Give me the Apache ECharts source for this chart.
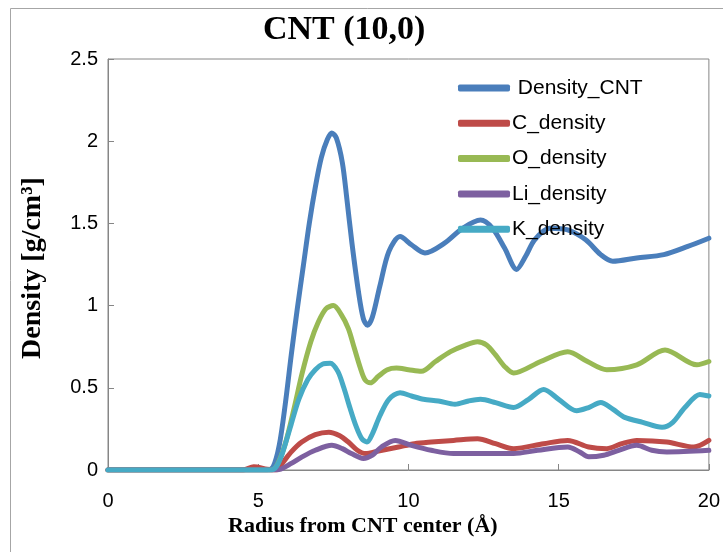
<!DOCTYPE html>
<html>
<head>
<meta charset="utf-8">
<script src="https://cdn.jsdelivr.net/npm/echarts@6/dist/echarts.min.js"></script>
<style>
html,body{margin:0;padding:0;background:#fff;}
#chart{width:723px;height:552px;}
</style>
</head>
<body>
<div id="chart"></div>
<script>
// ---- data ----
const xTicks = [0, 5, 10, 15, 20];
const yTicks = [0, 0.5, 1, 1.5, 2, 2.5];

const cntR = [0, 5.3, 5.5, 5.7, 5.9, 6.1, 6.3, 6.5, 6.7, 6.9, 7.1, 7.3, 7.45, 7.6, 7.8, 7.95, 8.12, 8.34, 8.5, 8.64, 8.8, 9.05, 9.35, 9.72, 10.1, 10.55, 11.2, 11.8, 12.4, 12.8, 13.2, 13.6, 13.9, 14.2, 14.7, 15.3, 15.9, 16.4, 16.8, 17.6, 18.5, 19.3, 20];
const cntV = [0, 0, 0.02, 0.15, 0.4, 0.7, 0.98, 1.24, 1.5, 1.72, 1.9, 2.01, 2.05, 2.02, 1.87, 1.65, 1.38, 1.08, 0.92, 0.88, 0.93, 1.12, 1.33, 1.42, 1.37, 1.32, 1.38, 1.47, 1.52, 1.47, 1.35, 1.22, 1.30, 1.40, 1.47, 1.46, 1.40, 1.31, 1.27, 1.29, 1.31, 1.36, 1.41];

const cR = [0, 4.5, 4.85, 5.3, 5.6, 5.8, 6.1, 6.45, 6.9, 7.35, 7.7, 8.0, 8.3, 8.57, 9.0, 9.67, 10.2, 10.76, 11.5, 12.3, 12.9, 13.5, 14.5, 15.3, 16.0, 16.6, 17.1, 17.6, 18.6, 19.5, 20];
const cV = [0, 0, 0.02, 0.005, 0, 0.04, 0.11, 0.17, 0.215, 0.23, 0.21, 0.17, 0.12, 0.10, 0.115, 0.14, 0.16, 0.17, 0.18, 0.19, 0.16, 0.13, 0.16, 0.18, 0.14, 0.13, 0.16, 0.18, 0.17, 0.14, 0.18];

const oR = [0, 5.4, 5.6, 5.9, 6.2, 6.45, 6.75, 7.0, 7.25, 7.5, 7.75, 8.0, 8.2, 8.4, 8.55, 8.73, 9.0, 9.3, 9.6, 10.0, 10.43, 10.9, 11.4, 11.9, 12.3, 12.6, 12.9, 13.2, 13.5, 14.4, 15.3, 15.96, 16.6, 17.6, 18.54, 19.6, 20];
const oV = [0, 0, 0.02, 0.16, 0.38, 0.58, 0.78, 0.9, 0.98, 1.0, 0.95, 0.86, 0.74, 0.62, 0.55, 0.53, 0.57, 0.61, 0.62, 0.61, 0.60, 0.66, 0.72, 0.76, 0.78, 0.76, 0.70, 0.63, 0.59, 0.66, 0.72, 0.66, 0.61, 0.64, 0.73, 0.64, 0.66];

const liR = [0, 5.5, 5.75, 6.1, 6.46, 6.9, 7.45, 7.8, 8.1, 8.5, 8.8, 9.1, 9.56, 10.1, 10.76, 11.5, 12.3, 13.5, 14.3, 15.3, 15.7, 16.0, 16.5, 17.0, 17.6, 18.1, 18.6, 20];
const liV = [0, 0, 0.005, 0.04, 0.08, 0.12, 0.15, 0.13, 0.10, 0.07, 0.09, 0.14, 0.18, 0.15, 0.12, 0.10, 0.10, 0.10, 0.12, 0.14, 0.11, 0.08, 0.09, 0.12, 0.15, 0.12, 0.11, 0.12];

const kR = [0, 5.4, 5.6, 5.8, 6.1, 6.35, 6.65, 6.9, 7.15, 7.4, 7.65, 7.85, 8.05, 8.25, 8.45, 8.62, 8.8, 9.05, 9.35, 9.72, 10.1, 10.5, 11.0, 11.55, 12.0, 12.4, 12.9, 13.5, 14.0, 14.5, 15.0, 15.6, 16.0, 16.4, 16.8, 17.2, 17.8, 18.44, 18.8, 19.2, 19.7, 20];
const kV = [0, 0, 0.02, 0.10, 0.28, 0.43, 0.55, 0.61, 0.645, 0.65, 0.6, 0.5, 0.38, 0.27, 0.19, 0.17, 0.22, 0.33, 0.43, 0.47, 0.45, 0.43, 0.42, 0.40, 0.42, 0.43, 0.41, 0.38, 0.43, 0.49, 0.43, 0.36, 0.38, 0.41, 0.37, 0.32, 0.29, 0.26, 0.29, 0.38, 0.46, 0.45];

const seriesNames = ['Density_CNT', 'C_density', 'O_density', 'Li_density', 'K_density'];
const seriesColors = ['#4A7EBB', '#BE4B48', '#98B954', '#7D60A0', '#46AAC5'];
const seriesR = [cntR, cR, oR, liR, kR];
const seriesV = [cntV, cV, oV, liV, kV];

const pair = (xs, ys) => xs.map((x, i) => [x, ys[i]]);

const chart = echarts.init(document.getElementById('chart'));
const serif = '"Liberation Serif", "Times New Roman", serif';
const sans = '"Liberation Sans", Arial, sans-serif';

chart.setOption({
  animation: false,
  backgroundColor: '#ffffff',
  title: {
    text: 'CNT (10,0)',
    left: 263, top: 13, padding: 0,
    textStyle: { fontFamily: serif, fontWeight: 'bold', fontSize: 34, color: '#000' }
  },
  graphic: [
    { type: 'rect', shape: { x: 10.5, y: 8.5, width: 740, height: 580 },
      style: { fill: 'none', stroke: '#a6a6a6', lineWidth: 1 }, z: -1 },
    { type: 'text', left: 228, top: 515,
      style: { text: 'Radius from CNT center (Å)', font: 'bold 22px ' + serif, fill: '#000' } },
    { type: 'text', x: 33, y: 268, rotation: Math.PI / 2,
      style: { text: 'Density [g/cm³]', font: 'bold 28px ' + serif, fill: '#000',
               textAlign: 'center', textVerticalAlign: 'middle' } }
  ],
  legend: {
    orient: 'vertical',
    left: 458, top: 76, padding: 0,
    itemWidth: 52, itemHeight: 7, itemGap: 11.3,
    icon: 'roundRect',
    data: seriesNames,
    formatter: n => n === 'Density_CNT' ? ' ' + n : n,
    textStyle: { fontFamily: sans, fontSize: 21, color: '#000', lineHeight: 24, padding: [0, 0, 0, -3] }
  },
  grid: {
    left: 108, right: 11, top: 59, bottom: 82,
    show: true, borderColor: '#868686', borderWidth: 1, backgroundColor: 'transparent'
  },
  xAxis: {
    type: 'value', min: xTicks[0], max: xTicks[xTicks.length - 1], interval: 5,
    axisLine: { lineStyle: { color: '#868686', width: 1 } },
    axisTick: { inside: true, length: 6, lineStyle: { color: '#868686' } },
    axisLabel: { margin: 21, fontFamily: sans, fontSize: 20, color: '#000' },
    splitLine: { show: false }
  },
  yAxis: {
    type: 'value', min: yTicks[0], max: yTicks[yTicks.length - 1], interval: 0.5,
    axisLine: { show: true, lineStyle: { color: '#868686', width: 1 } },
    axisTick: { show: true, inside: true, length: 6, lineStyle: { color: '#868686' } },
    axisLabel: { margin: 10, fontFamily: sans, fontSize: 20, color: '#000' },
    splitLine: { show: false }
  },
  series: seriesNames.map((name, i) => ({
    name: name,
    type: 'line',
    data: pair(seriesR[i], seriesV[i]),
    smooth: 0.3,
    showSymbol: false,
    color: seriesColors[i],
    lineStyle: { width: 5, color: seriesColors[i], cap: 'round', join: 'round' }
  }))
});
</script>
</body>
</html>
